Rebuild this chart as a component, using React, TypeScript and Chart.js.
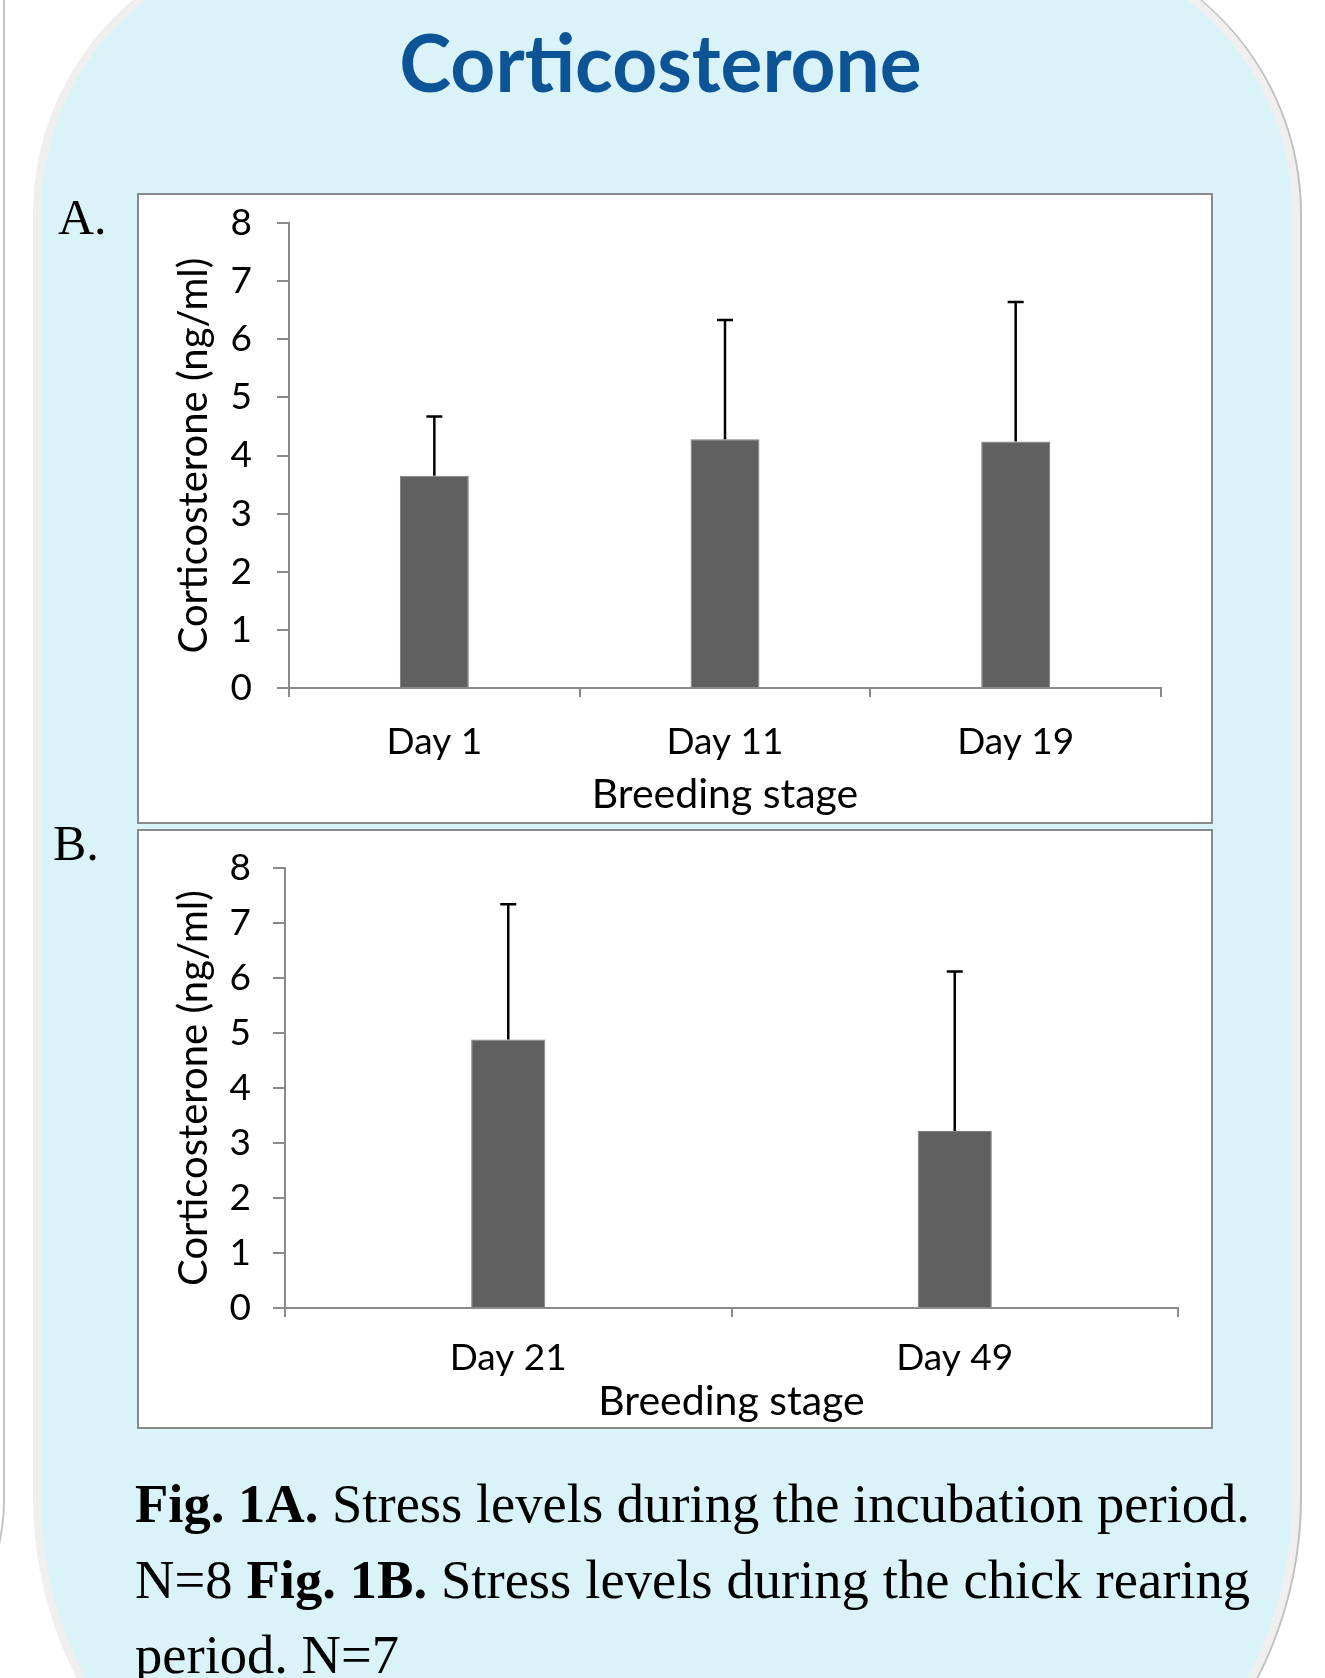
import React, { useEffect, useLayoutEffect, useRef, useState } from "react";
import { Chart, registerables } from "chart.js";

Chart.register(...registerables);

// ---------- data ----------
const categoriesA = ["Day 1", "Day 11", "Day 19"];
const meansA = [3.65, 4.28, 4.24];
const errorsA = [1.02, 2.05, 2.4];

const categoriesB = ["Day 21", "Day 49"];
const meansB = [4.88, 3.22];
const errorsB = [2.46, 2.9];

const yTicks = [0, 1, 2, 3, 4, 5, 6, 7, 8];
const yTitle = "Corticosterone (ng/ml)";
const xTitle = "Breeding stage";
const mainTitle = "Corticosterone";

const FONT = "Lato, 'Open Sans', sans-serif";
const AXIS = "#8a8a8a";
const BAR = "#606060";

const errorBarPlugin = {
  id: "errorBars",
  afterDatasetsDraw(chart: any) {
    const ds = chart.data.datasets[0];
    const errs: number[] = ds.errors;
    const meta = chart.getDatasetMeta(0);
    const y = chart.scales.y;
    const ctx = chart.ctx;
    ctx.save();
    ctx.strokeStyle = "#000";
    ctx.lineWidth = 2.5;
    meta.data.forEach((bar: any, i: number) => {
      const x = bar.x;
      const yTop = y.getPixelForValue(ds.data[i] + errs[i]);
      ctx.beginPath();
      ctx.moveTo(x, bar.y);
      ctx.lineTo(x, yTop);
      ctx.moveTo(x - 8, yTop);
      ctx.lineTo(x + 8, yTop);
      ctx.stroke();
    });
    ctx.restore();
  },
};

type Cfg = {
  labels: string[];
  values: number[];
  errors: number[];
  barPct: number;
  padTop: number;
  padRight: number;
  yAxisW: number;
  xAxisH: number;
  yTickPad: number;
  xTickPad: number;
  xTitlePad: number;
};

function makeChart(canvas: HTMLCanvasElement, cfg: Cfg) {
  const tickFont = { family: FONT, size: 37 };
  return new Chart(canvas, {
    type: "bar",
    data: {
      labels: cfg.labels,
      datasets: [
        {
          data: cfg.values,
          errors: cfg.errors,
          backgroundColor: BAR,
          borderColor: "#7c7c7c",
          borderWidth: 1,
          categoryPercentage: 1,
          barPercentage: cfg.barPct,
        } as any,
      ],
    },
    options: {
      animation: false,
      responsive: false,
      devicePixelRatio: 1,
      layout: { padding: { top: cfg.padTop, right: cfg.padRight, left: 0, bottom: 0 } },
      plugins: {
        legend: { display: false },
        tooltip: { enabled: false },
        title: { display: false },
      },
      scales: {
        x: {
          offset: true,
          grid: {
            display: true,
            offset: true,
            drawOnChartArea: false,
            drawTicks: true,
            tickLength: 9,
            color: AXIS,
            lineWidth: 2,
          },
          border: { display: true, color: AXIS, width: 2 },
          ticks: { color: "#000", font: tickFont, padding: cfg.xTickPad, maxRotation: 0 },
          title: {
            display: true,
            text: xTitle,
            color: "#000",
            font: { family: FONT, size: 41 },
            padding: { top: 0, bottom: cfg.xTitlePad },
          },
          afterFit: (s: any) => {
            s.height = cfg.xAxisH;
            s.paddingLeft = 0;
            s.paddingRight = 0;
          },
        },
        y: {
          min: 0,
          max: 8,
          afterBuildTicks: (s: any) => {
            s.ticks = yTicks.map((v) => ({ value: v }));
          },
          grid: {
            display: true,
            drawOnChartArea: false,
            drawTicks: true,
            tickLength: 12,
            color: AXIS,
            lineWidth: 2,
          },
          border: { display: true, color: AXIS, width: 2 },
          ticks: { color: "#000", font: tickFont, padding: cfg.yTickPad },
          title: {
            display: true,
            text: yTitle,
            color: "#000",
            font: { family: FONT, size: 40 },
            padding: { top: 31, bottom: 0 },
          },
          afterFit: (s: any) => {
            s.width = cfg.yAxisW;
            s.paddingTop = 0;
            s.paddingBottom = 0;
          },
        },
      },
    } as any,
    plugins: [errorBarPlugin],
  });
}

function BarPanel(props: { cfg: Cfg; left: number; top: number; width: number; height: number }) {
  const ref = useRef<HTMLCanvasElement>(null);
  const { cfg, left, top, width, height } = props;
  useEffect(() => {
    const c = makeChart(ref.current!, cfg);
    return () => c.destroy();
  }, []);
  return (
    <div
      style={{
        position: "absolute",
        left,
        top,
        width,
        height,
        border: `2px solid ${AXIS}`,
        boxSizing: "border-box",
        background: "#fff",
      }}
    >
      <canvas
        ref={ref}
        width={width - 4}
        height={height - 4}
        style={{ display: "block", width: width - 4, height: height - 4 }}
      />
    </div>
  );
}

const captionLines = [
  [
    { b: true, t: "Fig. 1A." },
    { b: false, t: " Stress levels during the incubation period." },
  ],
  [
    { b: false, t: "N=8 " },
    { b: true, t: "Fig. 1B." },
    { b: false, t: " Stress levels during the chick rearing" },
  ],
  [{ b: false, t: "period. N=7" }],
];

function Caption() {
  const measureRef = useRef<HTMLSpanElement>(null);
  const [scale, setScale] = useState(1);
  const target = 1115;
  useLayoutEffect(() => {
    const w = measureRef.current!.getBoundingClientRect().width;
    if (w > 0) setScale(target / w);
  }, []);
  const font: React.CSSProperties = {
    fontFamily: "'Liberation Serif', 'Times New Roman', serif",
    fontSize: 55,
    color: "#000",
  };
  return (
    <>
      <span
        ref={measureRef}
        style={{ ...font, position: "absolute", left: 0, top: 0, visibility: "hidden", whiteSpace: "nowrap" }}
      >
        {captionLines[0].map((p, i) => (
          <span key={i} style={{ fontWeight: p.b ? 700 : 400 }}>
            {p.t}
          </span>
        ))}
      </span>
      <div
        style={{
          ...font,
          position: "absolute",
          left: 135,
          top: 1466,
          width: target / scale,
          lineHeight: "75.5px",
          transform: `scaleX(${scale})`,
          transformOrigin: "left top",
        }}
      >
        {captionLines.map((line, li) => (
          <div
            key={li}
            style={{
              whiteSpace: "nowrap",
              textAlign: li < 2 ? "justify" : "left",
              textAlignLast: li < 2 ? "justify" : "left",
            } as any}
          >
            {line.map((p, i) => (
              <span key={i} style={{ fontWeight: p.b ? 700 : 400 }}>
                {p.t}
              </span>
            ))}
          </div>
        ))}
      </div>
    </>
  );
}

export default function App() {
  const cfgA: Cfg = {
    labels: categoriesA,
    values: meansA,
    errors: errorsA,
    barPct: 0.237,
    padTop: 28,
    padRight: 50,
    yAxisW: 150,
    xAxisH: 134,
    yTickPad: 25,
    xTickPad: 23,
    xTitlePad: 3,
  };
  const cfgB: Cfg = {
    labels: categoriesB,
    values: meansB,
    errors: errorsB,
    barPct: 0.166,
    padTop: 37,
    padRight: 33,
    yAxisW: 146,
    xAxisH: 119,
    yTickPad: 22,
    xTickPad: 19,
    xTitlePad: 1,
  };
  return (
    <div
      style={{
        position: "absolute",
        left: 0,
        top: 0,
        width: 1325,
        height: 1678,
        overflow: "hidden",
        background: "#fff",
      }}
    >
      {/* neighbouring panel edge */}
      <div
        style={{
          position: "absolute",
          left: -400,
          top: -60,
          width: 405,
          height: 1760,
          borderRight: "2px solid #c4c4c4",
          borderBottom: "2px solid #c4c4c4",
          borderBottomRightRadius: 200,
          boxSizing: "border-box",
        }}
      />
      {/* main rounded panel */}
      <div
        style={{
          position: "absolute",
          left: 33,
          top: -65,
          width: 1267,
          height: 1960,
          background: "#daf3f8",
          border: "8px solid #efefef",
          boxSizing: "border-box",
          borderRadius: "279px 279px 398px 398px",
          boxShadow: "2px 0 0 #c0c0c0",
        }}
      />
      <div
        style={{
          position: "absolute",
          left: 0,
          top: 21,
          width: 1320,
          textAlign: "center",
          fontFamily: FONT,
          fontWeight: 700,
          fontSize: 80,
          lineHeight: "80px",
          color: "#0d5497",
        }}
      >
        <span style={{ display: "inline-block", transform: "scaleX(0.98)" }}>{mainTitle}</span>
      </div>
      <div
        style={{
          position: "absolute",
          left: 58,
          top: 192,
          fontFamily: "'Liberation Serif', serif",
          fontSize: 50,
          lineHeight: "50px",
          color: "#000",
        }}
      >
        A.
      </div>
      <div
        style={{
          position: "absolute",
          left: 53,
          top: 818,
          fontFamily: "'Liberation Serif', serif",
          fontSize: 50,
          lineHeight: "50px",
          color: "#000",
        }}
      >
        B.
      </div>
      <BarPanel cfg={cfgA} left={137} top={193} width={1076} height={631} />
      <BarPanel cfg={cfgB} left={137} top={829} width={1076} height={600} />
      <Caption />
    </div>
  );
}
